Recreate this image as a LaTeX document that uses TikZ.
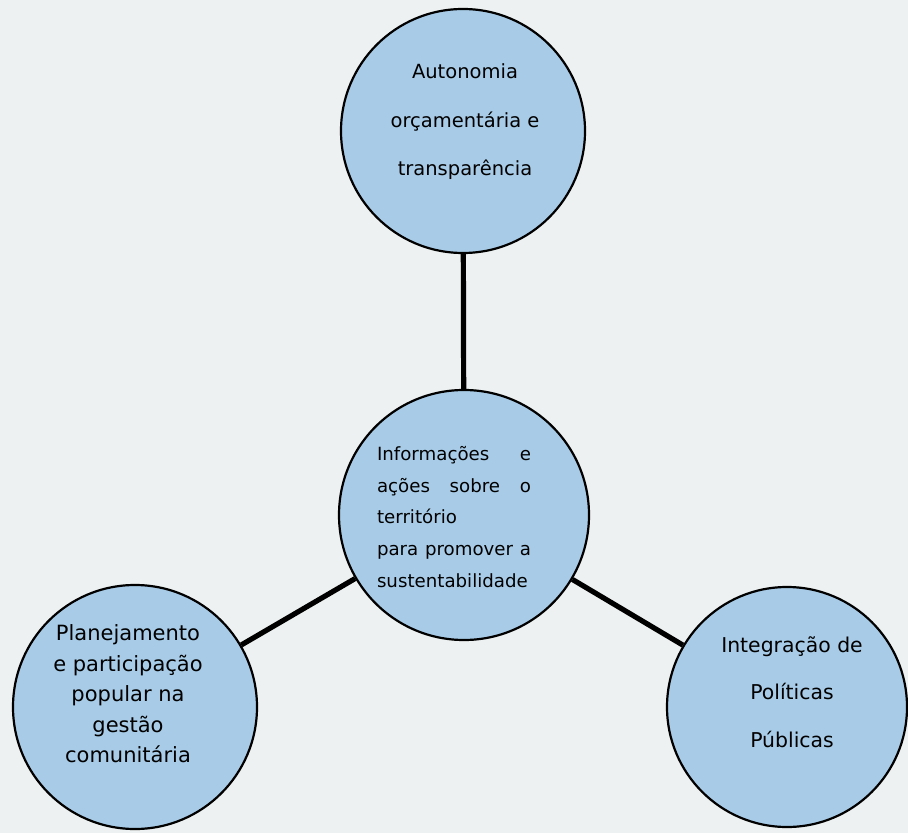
\documentclass[tikz,border=0pt]{standalone}
\usepackage{fontspec}
\setmainfont{DejaVu Sans}
\definecolor{bubblefill}{RGB}{168,204,232}
\definecolor{paper}{RGB}{238,241,241}
\begin{document}
\begin{tikzpicture}[x=0.5pt,y=-0.5pt,
    bubble/.style={circle, draw=black, line width=1.1pt, fill=bubblefill, minimum size=122pt, inner sep=0pt},
    bubbletext/.style={align=center, inner sep=0pt},
    link/.style={line width=2.6pt}]
    % Background
    \fill[paper] (0,0) rectangle (908,833);
    \useasboundingbox (0,0) rectangle (908,833);

    % Draw circles
    \node[bubble] (autonomia) at (463,131) {};
    \node[bubble, minimum size=125pt] (informacoes) at (464,515) {};
    \node[bubble] (planejamento) at (135,707) {};
    \node[bubble, minimum size=120pt] (integracao) at (787,707) {};

    % Draw connecting lines
    \draw[link] (informacoes) -- (autonomia);
    \draw[link] (informacoes) -- (planejamento);
    \draw[link] (informacoes) -- (integracao);

    % Add labels
    \node[bubbletext, font=\fontsize{9.75}{24.25}\selectfont] (autonomia-text) at (465,122)
        {Autonomia\\orçamentária e\\transparência};
    \node[bubbletext, align=left, text width=77pt, font=\fontsize{9.1}{15.85}\selectfont] (informacoes-text) at (454,517)
        {Informações\hfill e\\ações\hfill sobre\hfill o\\território\\para\hfill promover\hfill a\\sustentabilidade};
    \node[bubbletext, font=\fontsize{10.5}{15.25}\selectfont] (planejamento-text) at (128,694)
        {Planejamento\\e participação\\popular na\\gestão\\comunitária};
    \node[bubbletext, font=\fontsize{10.2}{23.75}\selectfont] (integracao-text) at (792,692)
        {Integração de\\Políticas\\Públicas};
\end{tikzpicture}
\end{document}
